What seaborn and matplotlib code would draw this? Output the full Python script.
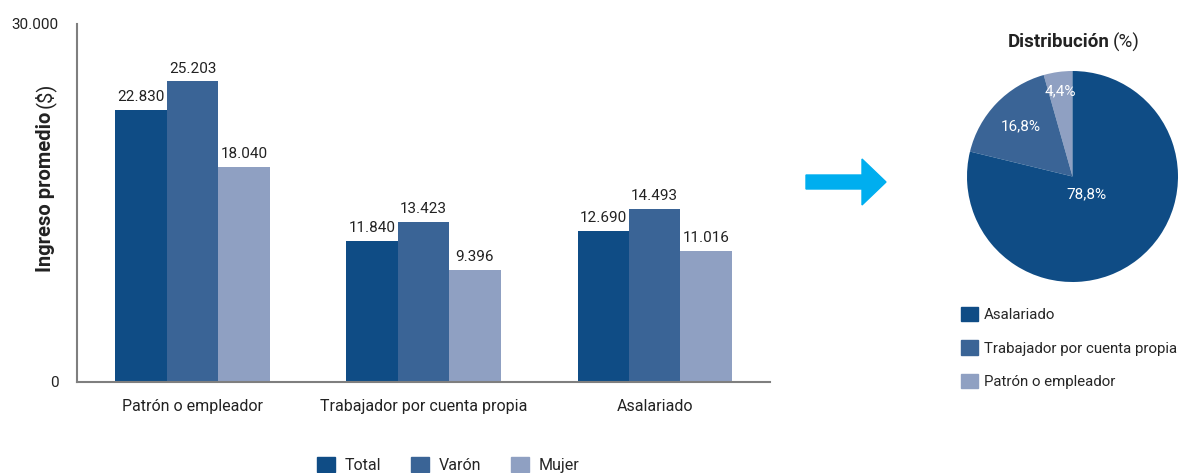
import numpy as np
import pandas as pd
import seaborn as sns
import matplotlib.pyplot as plt
from matplotlib.patches import Patch, FancyArrow

# Data
CATEGORIES = ['Patrón o empleador', 'Trabajador por cuenta propia', 'Asalariado']
SEXES = ['Total', 'Varón', 'Mujer']
TOTAL = [22830, 11840, 12690]
VARON = [25203, 13423, 14493]
MUJER = [18040, 9396, 11016]

PIE_LABELS = ['Patrón o empleador', 'Trabajador por cuenta propia', 'Asalariado']
PIE_VALUES = [4.4, 16.8, 78.8]
PIE_TEXT = ['4,4%', '16,8%', '78,8%']
PIE_TEXT_R = [0.82, 0.68, 0.22]

COLORS = ['#0f4c85', '#3a6496', '#8fa0c2']
GRAY = '#7f7f7f'
TXT = '#222222'

sns.set_style('white')
plt.rcParams['font.family'] = ['Roboto', 'DejaVu Sans']

df = pd.DataFrame({
    'cat': CATEGORIES * 3,
    'sexo': [s for s in SEXES for _ in CATEGORIES],
    'valor': TOTAL + VARON + MUJER,
})

fig = plt.figure(figsize=(11.86, 4.73), dpi=100)
ax = fig.add_axes([0.0649, 0.1924, 0.5844, 0.7569])

sns.barplot(data=df, x='cat', y='valor', hue='sexo', palette=COLORS,
            order=CATEGORIES, hue_order=SEXES, width=0.667, saturation=1,
            linewidth=0, ax=ax, legend=False)

def fmt(v):
    return f'{int(v):,}'.replace(',', '.')

for cont in ax.containers:
    ax.bar_label(cont, labels=[fmt(b.get_height()) for b in cont],
                 padding=4, fontsize=11, color=TXT)

ax.set_xlim(-0.5, 2.5)
ax.set_ylim(0, 30000)
ax.set_yticks(np.arange(0, 30001, 5000))
ax.set_yticklabels(['0', '', '', '', '', '', '30.000'], fontsize=11, color=TXT)
ax.set_xticks([0, 1, 2])
ax.set_xticklabels(CATEGORIES, fontsize=11.5, color=TXT)
ax.set_xticks([0.5, 1.5], minor=True)
ax.tick_params(axis='x', which='major', length=0, pad=12)
ax.tick_params(axis='x', which='minor', length=4, color=GRAY, width=1)
ax.tick_params(axis='y', length=4, color=GRAY, width=1, pad=9)
ax.set_xlabel('')
ax.set_ylabel('')
sns.despine(ax=ax)
for s in ['left', 'bottom']:
    ax.spines[s].set_color(GRAY)
    ax.spines[s].set_linewidth(1.5)

# y label: bold part + normal unit
ylab = fig.text(0.038, 1 - 272 / 473, 'Ingreso promedio', rotation=90, fontsize=14.5,
                fontweight='bold', color=TXT, ha='center', va='bottom')
fig.canvas.draw()
bb = ylab.get_window_extent().transformed(fig.transFigure.inverted())
fig.text(0.038, bb.y1 + 0.008, '($)', rotation=90, fontsize=14.5,
         color=TXT, ha='center', va='bottom')

# bottom legend
handles = [Patch(color=c) for c in COLORS]
fig.legend(handles, SEXES, loc='center', bbox_to_anchor=(0.378, 1 - 465 / 473),
           ncol=3, frameon=False, fontsize=11.5, handlelength=1.1,
           handleheight=1.1, columnspacing=1.9, handletextpad=0.6)

# arrow
fig.patches.append(FancyArrow(806 / 1186, 1 - 182 / 473, 56 / 1186, 0,
                              width=14 / 473, head_width=46 / 473,
                              head_length=24 / 1186, length_includes_head=False,
                              color='#00aeef', transform=fig.transFigure))

# pie
pax = fig.add_axes([967 / 1186, 1 - 282 / 473, 211 / 1186, 211 / 473])
wedges, _ = pax.pie(PIE_VALUES, colors=[COLORS[2], COLORS[1], COLORS[0]],
                    startangle=90, counterclock=True, radius=1,
                    wedgeprops={'linewidth': 0})
for w, t, r in zip(wedges, PIE_TEXT, PIE_TEXT_R):
    ang = np.deg2rad((w.theta1 + w.theta2) / 2)
    pax.text(r * np.cos(ang), r * np.sin(ang), t, color='white', fontsize=11,
             ha='center', va='center')
pax.set_xlim(-1, 1)
pax.set_ylim(-1, 1)
pax.set_aspect('equal')
fig.text(1110 / 1186, 1 - 42 / 473, 'Distribución', fontsize=13.5,
         fontweight='bold', color=TXT, ha='right', va='center')
fig.text(1113 / 1186, 1 - 42 / 473, '(%)', fontsize=13.5, color=TXT,
         ha='left', va='center')

pie_handles = [Patch(color=COLORS[0]), Patch(color=COLORS[1]), Patch(color=COLORS[2])]
fig.legend(pie_handles, ['Asalariado', 'Trabajador por cuenta propia', 'Patrón o empleador'],
           loc='upper left', bbox_to_anchor=(961 / 1186, 1 - 307 / 473),
           frameon=False, fontsize=10.8, handlelength=1.1, handleheight=1.1,
           labelspacing=1.2, handletextpad=0.4, borderpad=0, borderaxespad=0)

fig.savefig('out.png', dpi=100)
